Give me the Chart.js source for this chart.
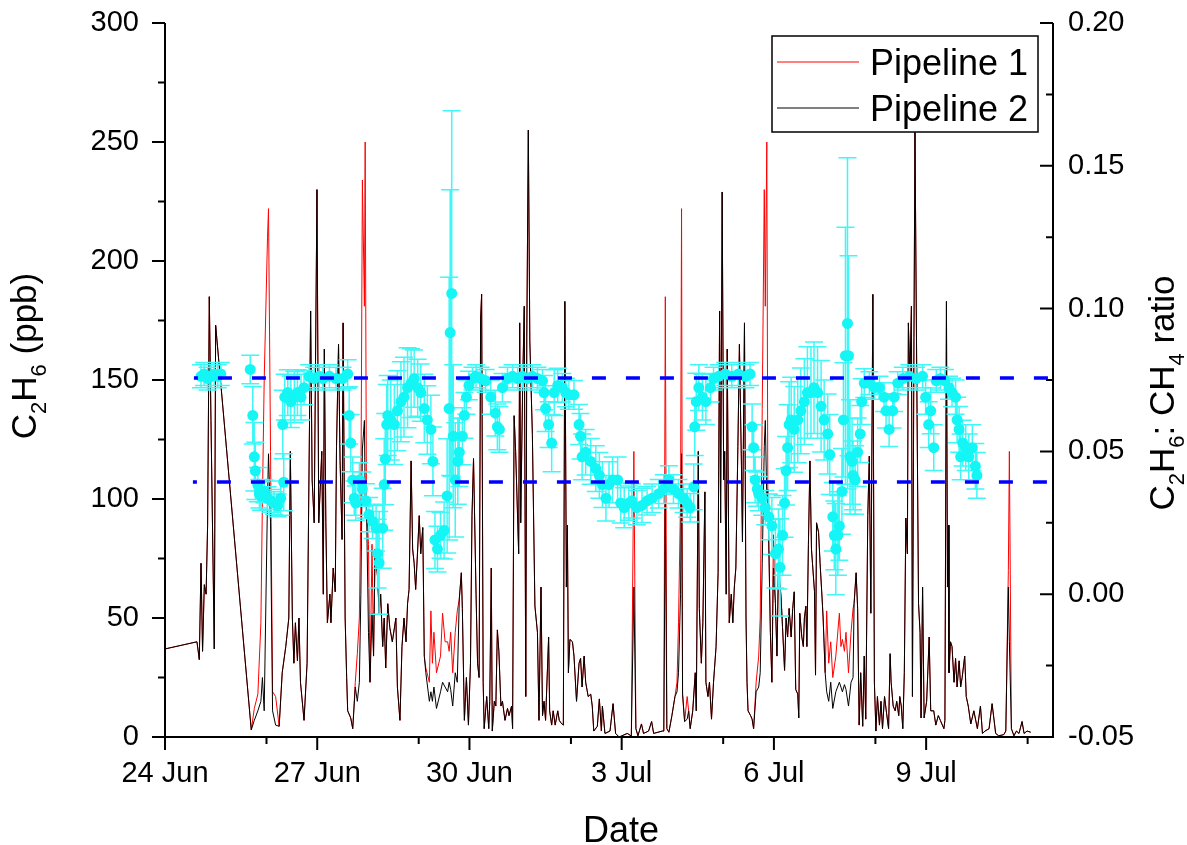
<!DOCTYPE html>
<html>
<head>
<meta charset="utf-8">
<script src="https://cdn.jsdelivr.net/npm/chart.js@4.4.1/dist/chart.umd.min.js"></script>
<style>
  html, body { margin: 0; padding: 0; background: #fff; }
  canvas { display: block; }
</style>
</head>
<body>
<canvas id="chart" width="1187" height="845"></canvas>
<script>
// time axis is in days after 24 Jun 00:00
const lineDays = [
  0, 0.63, 0.676, 0.71, 0.74, 0.775, 0.81, 0.84, 0.873, 0.906,
  0.971, 0.998, 1.70, 1.76, 1.83, 1.89, 1.92, 1.955, 2.02, 2.04,
  2.08, 2.12, 2.18, 2.25, 2.31, 2.38, 2.44, 2.47, 2.51, 2.54,
  2.57, 2.61, 2.64, 2.67, 2.74, 2.80, 2.87, 2.90, 2.94, 2.995,
  3.03, 3.09, 3.12, 3.14, 3.17, 3.20, 3.25, 3.27, 3.315, 3.355,
  3.38, 3.42, 3.45, 3.49, 3.51, 3.55, 3.58, 3.60, 3.66, 3.70,
  3.75, 3.79, 3.83, 3.86, 3.89, 3.93, 3.945, 3.97, 4.01, 4.04,
  4.08, 4.11, 4.14, 4.19, 4.22, 4.25, 4.29, 4.32, 4.35, 4.39,
  4.43, 4.48, 4.55, 4.58, 4.63, 4.67, 4.71, 4.75, 4.78, 4.81,
  4.85, 4.88, 4.91, 4.94, 4.98, 5.01, 5.04, 5.08, 5.11, 5.14,
  5.21, 5.24, 5.27, 5.30, 5.35, 5.43, 5.47, 5.52, 5.57, 5.60,
  5.63, 5.67, 5.72, 5.76, 5.80, 5.84, 5.86, 5.90, 5.94, 5.98,
  6.02, 6.05, 6.08, 6.13, 6.16, 6.19, 6.22, 6.24, 6.27, 6.29,
  6.34, 6.38, 6.40, 6.43, 6.45, 6.49, 6.52, 6.55, 6.58, 6.62,
  6.65, 6.70, 6.75, 6.78, 6.83, 6.85, 6.88, 6.91, 6.97, 6.99,
  7.01, 7.05, 7.08, 7.11, 7.13, 7.16, 7.19, 7.24, 7.29, 7.34,
  7.37, 7.41, 7.44, 7.47, 7.50, 7.56, 7.58, 7.62, 7.65, 7.69,
  7.74, 7.77, 7.80, 7.85, 7.88, 7.91, 7.93, 7.95, 7.98, 8.03,
  8.06, 8.11, 8.16, 8.19, 8.22, 8.26, 8.29, 8.34, 8.39, 8.42,
  8.45, 8.52, 8.56, 8.60, 8.62, 8.67, 8.77, 8.83, 8.88, 8.95,
  9.11, 9.19, 9.24, 9.28, 9.32, 9.39, 9.43, 9.53, 9.59, 9.63,
  9.80, 9.83, 9.86, 9.89, 9.93, 9.99, 10.05, 10.09, 10.12, 10.16,
  10.18, 10.20, 10.24, 10.29, 10.32, 10.35, 10.40, 10.45, 10.47, 10.51,
  10.53, 10.57, 10.60, 10.64, 10.66, 10.70, 10.73, 10.77, 10.81, 10.86,
  10.90, 10.93, 10.95, 10.98, 11.01, 11.03, 11.06, 11.08, 11.12, 11.16,
  11.19, 11.22, 11.25, 11.29, 11.32, 11.36, 11.38, 11.42, 11.45, 11.47,
  11.49, 11.54, 11.57, 11.60, 11.65, 11.70, 11.73, 11.77, 11.81, 11.83,
  11.86, 11.88, 11.93, 11.96, 11.99, 12.03, 12.06, 12.09, 12.14, 12.17,
  12.21, 12.24, 12.27, 12.30, 12.34, 12.37, 12.40, 12.43, 12.47, 12.49,
  12.51, 12.55, 12.58, 12.60, 12.63, 12.65, 12.68, 12.71, 12.74, 12.76,
  12.80, 12.82, 12.84, 12.88, 12.91, 12.95, 12.97, 13.01, 13.04, 13.08,
  13.12, 13.16, 13.22, 13.29, 13.32, 13.35, 13.39, 13.42, 13.47, 13.52,
  13.56, 13.58, 13.62, 13.65, 13.68, 13.71, 13.75, 13.78, 13.81, 13.85,
  13.88, 13.91, 13.95, 13.98, 14.01, 14.04, 14.08, 14.11, 14.14, 14.18,
  14.22, 14.26, 14.29, 14.31, 14.35, 14.39, 14.42, 14.46, 14.48, 14.51,
  14.54, 14.57, 14.60, 14.63, 14.65, 14.68, 14.71, 14.73, 14.76, 14.78,
  14.81, 14.85, 14.88, 14.90, 14.93, 14.96, 15.01, 15.06, 15.09, 15.15,
  15.19, 15.24, 15.28, 15.35, 15.37, 15.40, 15.42, 15.44, 15.45, 15.48,
  15.51, 15.55, 15.58, 15.61, 15.65, 15.68, 15.71, 15.76, 15.79, 15.83,
  15.88, 15.94, 16.01, 16.07, 16.11, 16.16, 16.24, 16.30, 16.37, 16.43,
  16.53, 16.57, 16.62, 16.64, 16.68, 16.73, 16.78, 16.83, 16.89, 16.93,
  16.99, 17.06
];
const pipe1 = [
  37, 40, 32.5, 73, 36, 64, 60, 89, 185, 133,
  37, 173, 3, 12, 18, 48, 100, 150, 210, 222,
  120, 19, 17, 4.5, 27, 38, 50, 120, 50, 31,
  48, 32, 50, 23, 7, 31, 179, 108, 90, 230,
  90, 120, 60, 163, 90, 48, 60, 48, 71, 61,
  122, 165, 116, 83, 174, 50, 25, 11, 8, 3.5,
  23, 35, 50, 98, 234, 181, 250, 98, 81, 23,
  81, 34, 79, 67, 52, 60, 38, 50, 29, 56,
  46, 40, 50, 21, 7, 38, 50, 40, 56, 62,
  116, 79, 73, 62, 79, 93, 77, 88, 34, 29,
  23, 53, 31, 44, 27, 34, 52, 40, 40, 36,
  44, 27, 44, 53, 58, 69, 54, 7, 25, 5,
  31, 93, 117, 60, 31, 25, 176, 186, 23, 3.5,
  17, 3.5, 15, 71, 2.5, 15, 13, 45, 36, 13,
  15, 7, 12, 9, 13, 3.5, 135, 120, 77, 174,
  90, 150, 181, 17, 168, 255, 166, 127, 55, 44,
  7, 63, 9, 15, 7, 42, 11, 5, 11, 5,
  11, 7, 6, 5, 183, 63, 89, 27, 41, 40,
  34, 15, 31, 33, 21, 34, 23, 17, 18, 13,
  2.5, 4.5, 16, 2.5, 13, 1.5, 2.5, 14, 1.5, 0,
  1.5, 0.4, 120, 3.5, 0.5, 5.5, 1.5, 2.5, 6.5, 1.5,
  2.5, 2.5, 185, 3.5, 2, 9, 17, 23, 48, 100,
  222, 18, 6.5, 17, 11, 3.5, 11, 27, 11, 120,
  54, 31, 48, 103, 23, 17, 23, 7.5, 23, 38,
  69, 179, 90, 229, 108, 120, 60, 163, 48, 60,
  48, 63, 71, 122, 165, 114, 82, 174, 50, 23,
  11, 9, 7.5, 3.5, 23, 34, 50, 138, 230, 181,
  250, 104, 44, 23, 85, 56, 34, 71, 59, 46,
  28, 50, 42, 54, 42, 54, 61, 20, 18, 8,
  52, 42, 38, 50, 55, 38, 81, 116, 79, 73,
  61, 26, 90, 86, 73, 58, 50, 27, 53, 31,
  40, 25, 34, 52, 38, 41, 36, 44, 27, 44,
  54, 56, 69, 54, 5, 27, 4.5, 34, 7.5, 93,
  118, 52, 186, 23, 2.5, 17, 5, 15, 3.5, 17,
  10, 3.5, 35, 23, 13, 11, 15, 9, 17, 13,
  3.5, 27, 92, 77, 174, 150, 181, 17, 168, 254,
  166, 56, 44, 8, 63, 8, 15, 42, 11, 11,
  5, 9, 7, 3.5, 7, 183, 63, 89, 27, 40,
  38, 23, 33, 21, 32, 21, 25, 34, 17, 13,
  5.5, 11, 3.5, 13, 1.5, 2.5, 3.5, 14, 1.5, 0.5,
  1, 2.5, 70, 120, 3.5, 0.5, 2.5, 1.5, 6.5, 1.5,
  2.5, 2
];
const pipe2 = [
  37, 40, 32.5, 73, 36, 64, 60, 89, 185, 133,
  37, 173, 3, 7, 11, 15, 25, 11, 100, 119,
  90, 11, 5, 4.5, 27, 38, 50, 120, 50, 31,
  48, 32, 50, 23, 7, 31, 179, 108, 90, 230,
  90, 120, 60, 163, 90, 48, 60, 48, 71, 61,
  122, 165, 116, 83, 174, 50, 25, 11, 8, 3.5,
  21, 15, 23, 60, 121, 133, 100, 98, 44, 23,
  52, 34, 79, 67, 52, 60, 38, 50, 29, 56,
  46, 40, 50, 21, 7, 38, 50, 40, 56, 62,
  116, 79, 73, 62, 79, 93, 77, 88, 34, 27,
  15, 19, 15, 21, 12, 19, 23, 21, 19, 23,
  20, 13, 27, 23, 58, 69, 54, 7, 25, 5,
  31, 93, 117, 60, 31, 25, 176, 186, 23, 3.5,
  17, 3.5, 15, 71, 2.5, 15, 13, 45, 36, 13,
  15, 7, 12, 9, 13, 3.5, 135, 120, 77, 174,
  90, 150, 181, 17, 168, 255, 166, 127, 55, 44,
  7, 63, 9, 15, 7, 42, 11, 5, 11, 5,
  11, 7, 6, 5, 183, 63, 89, 27, 41, 40,
  34, 15, 31, 33, 21, 34, 23, 17, 18, 13,
  2.5, 4.5, 16, 2.5, 13, 1.5, 2.5, 14, 1.5, 0,
  1.5, 0.4, 63, 3.5, 0.5, 5.5, 1.5, 2.5, 6.5, 1.5,
  2.5, 2.5, 98, 3.5, 2, 9, 17, 19, 27, 60,
  119, 18, 6.5, 7.5, 11, 3.5, 11, 27, 11, 120,
  54, 31, 48, 103, 23, 17, 23, 7.5, 23, 38,
  69, 179, 90, 229, 108, 120, 60, 163, 48, 60,
  48, 63, 71, 122, 165, 114, 82, 174, 50, 23,
  11, 9, 7.5, 3.5, 19, 21, 27, 73, 122, 133,
  100, 104, 44, 23, 71, 56, 34, 71, 59, 46,
  28, 50, 42, 54, 42, 54, 61, 20, 18, 8,
  52, 42, 38, 50, 55, 38, 81, 116, 79, 73,
  61, 26, 90, 86, 73, 58, 50, 27, 19, 15,
  23, 12, 19, 23, 21, 19, 22, 20, 13, 23,
  25, 56, 69, 54, 5, 27, 4.5, 34, 7.5, 93,
  118, 52, 186, 23, 2.5, 17, 5, 15, 3.5, 17,
  10, 3.5, 35, 23, 13, 11, 15, 9, 17, 13,
  3.5, 27, 92, 77, 174, 150, 181, 17, 168, 254,
  166, 56, 44, 8, 63, 8, 15, 42, 11, 11,
  5, 9, 7, 3.5, 7, 183, 63, 89, 27, 40,
  38, 23, 33, 21, 32, 21, 25, 34, 17, 13,
  5.5, 11, 3.5, 13, 1.5, 2.5, 3.5, 14, 1.5, 0.5,
  1, 2.5, 63, 40, 3.5, 0.5, 2.5, 1.5, 6.5, 1.5,
  2.5, 2
];

// C2H6:CH4 ratio with its error
const ratioDays = [
  0.71, 0.77, 0.84, 0.906, 0.97, 1.04, 1.10, 1.68, 1.73, 1.76,
  1.78, 1.83, 1.86, 1.89, 1.96, 2.02, 2.09, 2.15, 2.22, 2.28,
  2.32, 2.34, 2.36, 2.42, 2.48, 2.55, 2.61, 2.68, 2.74, 2.84,
  2.94, 3.04, 3.11, 3.24, 3.37, 3.50, 3.60, 3.63, 3.66, 3.70,
  3.73, 3.76, 3.83, 3.89, 3.96, 4.02, 4.09, 4.16, 4.19, 4.22,
  4.29, 4.32, 4.34, 4.37, 4.39, 4.45, 4.52, 4.58, 4.65, 4.71,
  4.78, 4.85, 4.91, 4.98, 5.04, 5.11, 5.17, 5.24, 5.28, 5.32,
  5.37, 5.43, 5.50, 5.56, 5.60, 5.62, 5.65, 5.68, 5.72, 5.77,
  5.80, 5.86, 5.90, 5.94, 5.99, 6.06, 6.13, 6.22, 6.32, 6.42,
  6.51, 6.55, 6.59, 6.65, 6.75, 6.85, 6.95, 7.04, 7.14, 7.24,
  7.34, 7.44, 7.47, 7.50, 7.56, 7.62, 7.67, 7.74, 7.83, 7.90,
  7.96, 8.06, 8.16, 8.19, 8.22, 8.29, 8.39, 8.49, 8.56, 8.62,
  8.69, 8.75, 8.82, 8.92, 8.98, 9.05, 9.14, 9.20, 9.30, 9.40,
  9.50, 9.60, 9.73, 9.83, 9.93, 10.02, 10.12, 10.22, 10.29, 10.35,
  10.42, 10.44, 10.47, 10.52, 10.59, 10.66, 10.75, 10.81, 10.91, 11.04,
  11.17, 11.30, 11.44, 11.53, 11.57, 11.60, 11.63, 11.67, 11.70, 11.77,
  11.83, 11.90, 11.96, 12.03, 12.09, 12.12, 12.17, 12.21, 12.24, 12.27,
  12.30, 12.34, 12.40, 12.47, 12.53, 12.60, 12.66, 12.73, 12.79, 12.86,
  12.93, 12.99, 13.06, 13.10, 13.16, 13.19, 13.22, 13.26, 13.29, 13.34,
  13.37, 13.41, 13.45, 13.47, 13.50, 13.54, 13.56, 13.60, 13.65, 13.70,
  13.73, 13.78, 13.88, 13.98, 14.08, 14.17, 14.21, 14.27, 14.34, 14.37,
  14.44, 14.54, 14.67, 14.80, 14.93, 14.99, 15.05, 15.09, 15.15, 15.20,
  15.28, 15.37, 15.45, 15.51, 15.58, 15.61, 15.65, 15.68, 15.72, 15.78,
  15.84, 15.91, 15.97, 16.00
];
const ratioVals = [
  0.0763, 0.0771, 0.0755, 0.0763, 0.0771, 0.0763, 0.0771, 0.0787, 0.0626, 0.0481,
  0.0432, 0.0384, 0.0352, 0.0344, 0.0360, 0.0336, 0.0327, 0.0319, 0.0311, 0.0336,
  0.0594, 0.0392, 0.0690, 0.0706, 0.0674, 0.0690, 0.0706, 0.0690, 0.0723, 0.0763,
  0.0755, 0.0763, 0.0755, 0.0763, 0.0755, 0.0755, 0.0771, 0.0626, 0.0529, 0.0400,
  0.0336, 0.0319, 0.0400, 0.0368, 0.0327, 0.0279, 0.0255, 0.0231, 0.0142, 0.0110,
  0.0231, 0.0384, 0.0473, 0.0594, 0.0626, 0.0610, 0.0594, 0.0642, 0.0674, 0.0690,
  0.0723, 0.0739, 0.0755, 0.0723, 0.0706, 0.0650, 0.0610, 0.0577, 0.0465, 0.0190,
  0.0158, 0.0206, 0.0223, 0.0344, 0.0650, 0.0916, 0.1053, 0.0553, 0.0400, 0.0465,
  0.0497, 0.0553, 0.0626, 0.0690, 0.0731, 0.0755, 0.0763, 0.0755, 0.0747, 0.0690,
  0.0634, 0.0586, 0.0577, 0.0723, 0.0755, 0.0763, 0.0755, 0.0763, 0.0755, 0.0763,
  0.0755, 0.0747, 0.0706, 0.0650, 0.0594, 0.0529, 0.0706, 0.0731, 0.0723, 0.0706,
  0.0698, 0.0698, 0.0594, 0.0553, 0.0481, 0.0497, 0.0465, 0.0440, 0.0416, 0.0384,
  0.0336, 0.0384, 0.0400, 0.0400, 0.0319, 0.0303, 0.0319, 0.0327, 0.0303, 0.0311,
  0.0327, 0.0336, 0.0352, 0.0368, 0.0400, 0.0368, 0.0352, 0.0336, 0.0319, 0.0303,
  0.0376, 0.0586, 0.0674, 0.0723, 0.0690, 0.0674, 0.0723, 0.0755, 0.0763, 0.0771,
  0.0763, 0.0771, 0.0763, 0.0771, 0.0586, 0.0513, 0.0400, 0.0368, 0.0352, 0.0336,
  0.0303, 0.0271, 0.0239, 0.0142, 0.0158, 0.0094, 0.0206, 0.0319, 0.0432, 0.0513,
  0.0594, 0.0610, 0.0577, 0.0610, 0.0642, 0.0674, 0.0706, 0.0706, 0.0723, 0.0706,
  0.0658, 0.0610, 0.0561, 0.0489, 0.0271, 0.0206, 0.0158, 0.0206, 0.0239, 0.0360,
  0.0610, 0.0835, 0.0948, 0.0835, 0.0481, 0.0465, 0.0416, 0.0400, 0.0497, 0.0561,
  0.0674, 0.0739, 0.0739, 0.0723, 0.0723, 0.0690, 0.0642, 0.0577, 0.0642, 0.0690,
  0.0739, 0.0755, 0.0763, 0.0755, 0.0763, 0.0690, 0.0594, 0.0642, 0.0513, 0.0747,
  0.0755, 0.0747, 0.0723, 0.0706, 0.0690, 0.0610, 0.0577, 0.0481, 0.0529, 0.0513,
  0.0481, 0.0513, 0.0448, 0.0416
];
const ratioErr = [
  0.004, 0.004, 0.004, 0.004, 0.004, 0.004, 0.004, 0.005, 0.010, 0.012,
  0.010, 0.006, 0.005, 0.005, 0.004, 0.004, 0.004, 0.004, 0.004, 0.006,
  0.012, 0.010, 0.008, 0.008, 0.009, 0.009, 0.008, 0.008, 0.006, 0.004,
  0.004, 0.004, 0.004, 0.004, 0.004, 0.004, 0.005, 0.010, 0.010, 0.008,
  0.006, 0.006, 0.006, 0.006, 0.006, 0.006, 0.006, 0.008, 0.012, 0.018,
  0.014, 0.016, 0.016, 0.014, 0.014, 0.014, 0.014, 0.014, 0.014, 0.014,
  0.014, 0.012, 0.010, 0.010, 0.010, 0.012, 0.012, 0.012, 0.012, 0.010,
  0.008, 0.008, 0.010, 0.020, 0.046, 0.050, 0.064, 0.025, 0.020, 0.015,
  0.012, 0.010, 0.008, 0.006, 0.005, 0.004, 0.004, 0.004, 0.004, 0.006,
  0.008, 0.008, 0.008, 0.005, 0.004, 0.004, 0.004, 0.004, 0.004, 0.004,
  0.004, 0.004, 0.006, 0.008, 0.008, 0.010, 0.008, 0.006, 0.005, 0.005,
  0.005, 0.005, 0.007, 0.008, 0.008, 0.008, 0.008, 0.008, 0.008, 0.008,
  0.008, 0.008, 0.008, 0.008, 0.007, 0.007, 0.006, 0.006, 0.006, 0.006,
  0.005, 0.005, 0.005, 0.005, 0.005, 0.005, 0.005, 0.005, 0.005, 0.005,
  0.008, 0.010, 0.010, 0.008, 0.008, 0.008, 0.005, 0.004, 0.004, 0.004,
  0.004, 0.004, 0.004, 0.004, 0.008, 0.008, 0.008, 0.006, 0.006, 0.006,
  0.006, 0.008, 0.010, 0.012, 0.014, 0.017, 0.014, 0.012, 0.012, 0.015,
  0.015, 0.015, 0.015, 0.015, 0.015, 0.015, 0.016, 0.016, 0.016, 0.016,
  0.016, 0.014, 0.014, 0.014, 0.012, 0.012, 0.016, 0.014, 0.012, 0.015,
  0.020, 0.045, 0.058, 0.035, 0.020, 0.015, 0.012, 0.012, 0.012, 0.010,
  0.008, 0.005, 0.004, 0.004, 0.004, 0.005, 0.006, 0.006, 0.006, 0.005,
  0.004, 0.004, 0.004, 0.004, 0.004, 0.006, 0.008, 0.008, 0.008, 0.004,
  0.004, 0.004, 0.004, 0.005, 0.006, 0.008, 0.008, 0.008, 0.008, 0.008,
  0.008, 0.008, 0.008, 0.008
];

// two reference ratios (dashed)
const refRatios = [0.0757, 0.0393];
const refStart = [0.57, 0.55];

const dayMax = 17.5;
const dayTicks = [0, 3, 6, 9, 12, 15];
const dayLabels = ['24 Jun', '27 Jun', '30 Jun', '3 Jul', '6 Jul', '9 Jul'];
const dayMinor = [2, 5, 8, 11, 14, 17];
const ppbTicks = [0, 50, 100, 150, 200, 250, 300];
const ppbMinor = [25, 75, 125, 175, 225, 275];
const ratioTicks = [-0.05, 0, 0.05, 0.1, 0.15, 0.2];
const ratioMinor = [-0.025, 0.025, 0.075, 0.125, 0.175];

const FONT = '"Liberation Sans", Arial, Helvetica, sans-serif';

const toPoints = (xs, ys) => xs.map((x, i) => ({ x: x, y: ys[i] }));

// draws text with subscript parts, centred on (0,0) of the current transform
function richText(ctx, parts, size) {
  const subSize = Math.round(size * 0.62);
  let total = 0;
  parts.forEach(p => {
    ctx.font = (p.sub ? subSize : size) + 'px ' + FONT;
    p.w = ctx.measureText(p.t).width;
    total += p.w;
  });
  let x = -total / 2;
  ctx.textBaseline = 'alphabetic';
  ctx.textAlign = 'left';
  parts.forEach(p => {
    ctx.font = (p.sub ? subSize : size) + 'px ' + FONT;
    ctx.fillText(p.t, x, p.sub ? size * 0.28 : 0);
    x += p.w;
  });
}

const errorBars = {
  id: 'errorBars',
  beforeDatasetDraw(chart, args) {
    const ds = chart.data.datasets[args.index];
    if (!ds.errors) return;
    const { ctx, chartArea: a } = chart;
    const xs = chart.scales.x, ys = chart.scales.y1;
    ctx.save();
    ctx.beginPath();
    ctx.rect(a.left, a.top, a.right - a.left, a.bottom - a.top);
    ctx.clip();
    ctx.strokeStyle = '#3ff7f7';
    ctx.lineWidth = 1.5;
    ctx.beginPath();
    ds.data.forEach((p, i) => {
      const px = xs.getPixelForValue(p.x);
      const top = ys.getPixelForValue(p.y + ds.errors[i]);
      const bot = ys.getPixelForValue(p.y - ds.errors[i]);
      ctx.moveTo(px, top); ctx.lineTo(px, bot);
      ctx.moveTo(px - 9, top); ctx.lineTo(px + 9, top);
      ctx.moveTo(px - 9, bot); ctx.lineTo(px + 9, bot);
    });
    ctx.stroke();
    ctx.restore();
  }
};

const frame = {
  id: 'frame',
  afterDraw(chart) {
    const { ctx, chartArea: a, scales } = chart;
    ctx.save();
    ctx.strokeStyle = '#000';
    ctx.lineWidth = 2;
    ctx.beginPath();
    ctx.moveTo(a.left, a.top); ctx.lineTo(a.left, a.bottom);
    ctx.lineTo(a.right, a.bottom); ctx.lineTo(a.right, a.top);
    ctx.stroke();

    ctx.beginPath();
    const mark = (x1, y1, x2, y2) => { ctx.moveTo(x1, y1); ctx.lineTo(x2, y2); };
    dayTicks.forEach(v => { const p = scales.x.getPixelForValue(v); mark(p, a.bottom, p, a.bottom + 13); });
    dayMinor.forEach(v => { const p = scales.x.getPixelForValue(v); mark(p, a.bottom, p, a.bottom + 7); });
    ppbTicks.forEach(v => { const p = scales.y.getPixelForValue(v); mark(a.left - 13, p, a.left, p); });
    ppbMinor.forEach(v => { const p = scales.y.getPixelForValue(v); mark(a.left - 7, p, a.left, p); });
    ratioTicks.forEach(v => { const p = scales.y1.getPixelForValue(v); mark(a.right - 13, p, a.right, p); });
    ratioMinor.forEach(v => { const p = scales.y1.getPixelForValue(v); mark(a.right - 7, p, a.right, p); });
    ctx.stroke();

    // legend
    const box = { x: 772, y: 36, w: 266, h: 96 };
    ctx.fillStyle = '#fff';
    ctx.fillRect(box.x, box.y, box.w, box.h);
    ctx.lineWidth = 1.5;
    ctx.strokeRect(box.x, box.y, box.w, box.h);
    const entries = chart.data.datasets.filter(d => d.inLegend);
    entries.forEach((d, i) => {
      const ly = 62 + i * 46;
      ctx.strokeStyle = d.legendColor;
      ctx.lineWidth = 1;
      ctx.beginPath();
      ctx.moveTo(777, ly); ctx.lineTo(859, ly);
      ctx.stroke();
      ctx.fillStyle = '#000';
      ctx.font = '36px ' + FONT;
      ctx.textAlign = 'left';
      ctx.textBaseline = 'alphabetic';
      ctx.fillText(d.label, 870, ly + 13);
    });

    // axis titles
    ctx.fillStyle = '#000';
    ctx.save();
    ctx.translate(36, 356);
    ctx.rotate(-Math.PI / 2);
    richText(ctx, [{ t: 'C' }, { t: '2', sub: true }, { t: 'H' }, { t: '6', sub: true }, { t: ' (ppb)' }], 35);
    ctx.restore();

    ctx.save();
    ctx.translate(1174, 393);
    ctx.rotate(-Math.PI / 2);
    richText(ctx, [{ t: 'C' }, { t: '2', sub: true }, { t: 'H' }, { t: '6', sub: true }, { t: ': CH' }, { t: '4', sub: true }, { t: ' ratio' }], 35);
    ctx.restore();

    ctx.save();
    ctx.translate(621, 842);
    richText(ctx, [{ t: 'Date' }], 36);
    ctx.restore();
    ctx.restore();
  }
};

const tickFont = { family: FONT, size: 29 };

// fixed axis boxes, so the plot area lands where it does in the figure
const fixBox = (w, h) => s => {
  if (w) s.width = w;
  if (h) s.height = h;
  s.paddingTop = 0; s.paddingBottom = 0; s.paddingLeft = 0; s.paddingRight = 0;
};

new Chart(document.getElementById('chart'), {
  type: 'line',
  data: {
    datasets: [
      {
        label: 'Pipeline 1', inLegend: true, legendColor: '#ff0000',
        data: toPoints(lineDays, pipe1), yAxisID: 'y', order: 4,
        borderColor: '#ff0000', borderWidth: 1, pointRadius: 0, tension: 0
      },
      {
        label: 'Pipeline 2', inLegend: true, legendColor: '#000000',
        data: toPoints(lineDays, pipe2), yAxisID: 'y', order: 3,
        borderColor: '#000000', borderWidth: 1, pointRadius: 0, tension: 0
      },
      {
        label: 'ratio', data: toPoints(ratioDays, ratioVals), errors: ratioErr,
        yAxisID: 'y1', order: 2, showLine: false,
        pointRadius: 5.5, pointBackgroundColor: '#14f5f5', pointBorderWidth: 0,
        borderColor: '#14f5f5'
      },
      {
        label: 'upper', data: [{ x: refStart[0], y: refRatios[0] }, { x: dayMax, y: refRatios[0] }],
        yAxisID: 'y1', order: 1, borderColor: '#0000ff', borderWidth: 3.5,
        borderDash: [14, 20], borderDashOffset: 10, pointRadius: 0
      },
      {
        label: 'lower', data: [{ x: refStart[1], y: refRatios[1] }, { x: dayMax, y: refRatios[1] }],
        yAxisID: 'y1', order: 1, borderColor: '#0000ff', borderWidth: 3.5,
        borderDash: [14, 20], borderDashOffset: 10, pointRadius: 0
      }
    ]
  },
  options: {
    responsive: false,
    animation: false,
    devicePixelRatio: 1,
    layout: { padding: { top: 23, left: 0, right: 0, bottom: 0 } },
    plugins: { legend: { display: false }, tooltip: { enabled: false } },
    scales: {
      x: {
        type: 'linear', min: 0, max: dayMax,
        afterBuildTicks: s => { s.ticks = dayTicks.map(v => ({ value: v })); },
        afterFit: fixBox(0, 108),
        ticks: {
          callback: (v, i) => dayLabels[i], font: tickFont, color: '#000',
          padding: 20, maxRotation: 0, autoSkip: false
        },
        grid: { display: false, drawTicks: false },
        border: { display: false }
      },
      y: {
        position: 'left', min: 0, max: 300,
        afterBuildTicks: s => { s.ticks = ppbTicks.map(v => ({ value: v })); },
        afterFit: fixBox(165, 0),
        ticks: { font: tickFont, color: '#000', padding: 26 },
        grid: { display: false, drawTicks: false },
        border: { display: false }
      },
      y1: {
        position: 'right', min: -0.05, max: 0.2,
        afterBuildTicks: s => { s.ticks = ratioTicks.map(v => ({ value: v })); },
        afterFit: fixBox(134, 0),
        ticks: { font: tickFont, color: '#000', padding: 15, callback: v => v.toFixed(2) },
        grid: { display: false, drawTicks: false },
        border: { display: false }
      }
    }
  },
  plugins: [errorBars, frame]
});
</script>
</body>
</html>
